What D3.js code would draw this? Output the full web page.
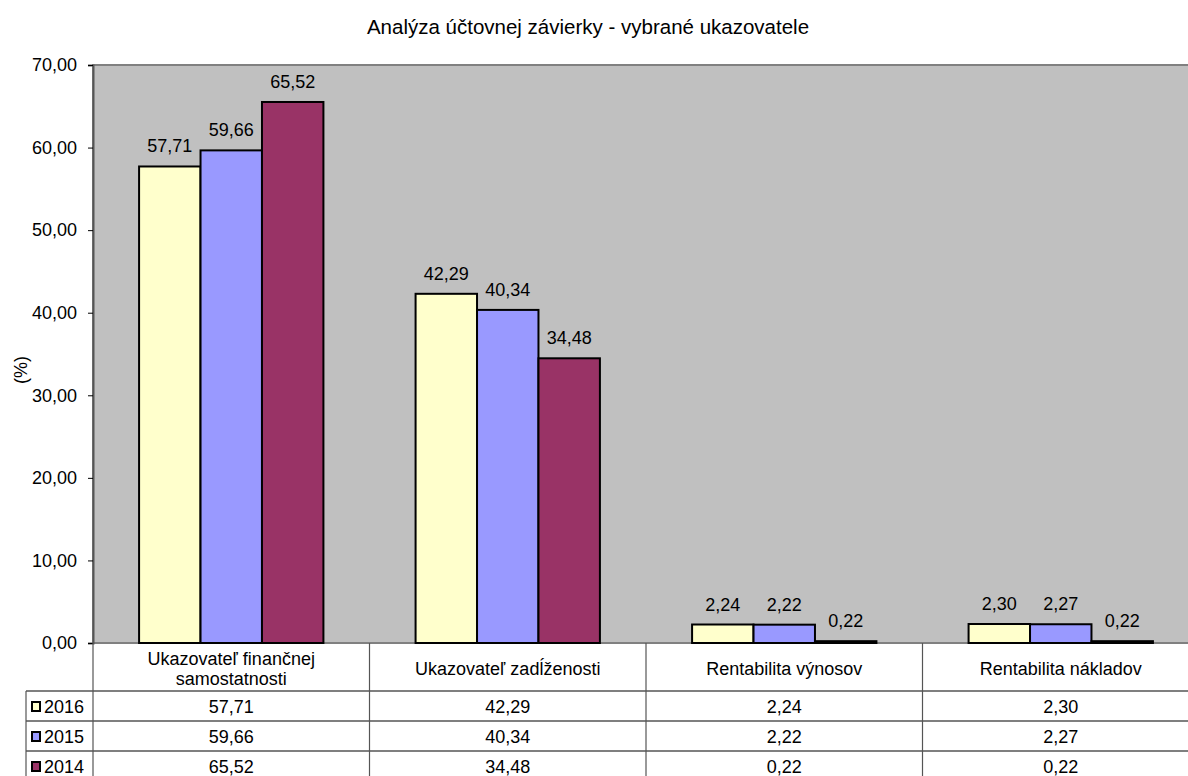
<!DOCTYPE html>
<html>
<head>
<meta charset="utf-8">
<script src="https://cdn.jsdelivr.net/npm/d3@7"></script>
<style>
  body { margin: 0; background: #fff; }
  svg { font-family: "Liberation Sans", Arial, sans-serif; }
</style>
</head>
<body>
<div id="plot"></div>
<script>
// data
var categories = [
    ["Ukazovateľ finančnej", "samostatnosti"],
    ["Ukazovateľ zadĺženosti"],
    ["Rentabilita výnosov"],
    ["Rentabilita nákladov"]
];
var years = ["2016", "2015", "2014"];
var values2016 = [57.71, 42.29, 2.24, 2.30];
var values2015 = [59.66, 40.34, 2.22, 2.27];
var values2014 = [65.52, 34.48, 0.22, 0.22];
var yTicks = [0, 10, 20, 30, 40, 50, 60, 70];
var colors = ["#FFFFCC", "#9999FF", "#993366"];

var series = [values2016, values2015, values2014];
var fmt = d => d.toFixed(2).replace(".", ",");
var fs = "18px";

// workspace
var svgWidth = 1188, svgHeight = 776;
var plot = { left: 93, top: 65, bottom: 643, right: 93 + 4 * 276.5 };

var svg = d3.select("#plot").append("svg")
    .attr("width", svgWidth)
    .attr("height", svgHeight);

// scales
var xScale = d3.scaleBand()
    .domain(d3.range(categories.length))
    .range([plot.left, plot.right]);
var bw = xScale.bandwidth();
var barW = bw / 4.5;
var xInner = d3.scaleBand()
    .domain(years)
    .range([barW * 0.75, bw - barW * 0.75]);
var yScale = d3.scaleLinear()
    .domain([0, 70])
    .range([plot.bottom, plot.top]);

// title
svg.append("text")
    .attr("x", 588)
    .attr("y", 34)
    .attr("text-anchor", "middle")
    .attr("font-size", "20.5px")
    .text("Analýza účtovnej závierky - vybrané ukazovatele");

// plot background
svg.append("rect")
    .attr("x", plot.left)
    .attr("y", plot.top)
    .attr("width", plot.right - plot.left)
    .attr("height", plot.bottom - plot.top)
    .attr("fill", "#C0C0C0")
    .attr("stroke", "#808080")
    .attr("stroke-width", 2);

// bars
var groups = svg.selectAll(".cat")
    .data(categories)
    .enter().append("g")
    .attr("transform", (d, i) => `translate(${xScale(i)},0)`);

years.forEach(function (yr, s) {
    groups.append("rect")
        .attr("x", (d, i) => xInner(yr))
        .attr("y", (d, i) => yScale(series[s][i]))
        .attr("width", xInner.bandwidth())
        .attr("height", (d, i) => plot.bottom - yScale(series[s][i]))
        .attr("fill", colors[s])
        .attr("stroke", "#000")
        .attr("stroke-width", 2);

    groups.append("text")
        .attr("x", (d, i) => xInner(yr) + xInner.bandwidth() / 2)
        .attr("y", (d, i) => yScale(series[s][i]) - 14)
        .attr("text-anchor", "middle")
        .attr("font-size", fs)
        .text((d, i) => fmt(series[s][i]));
});

// y axis
var leftAxis = d3.axisLeft(yScale)
    .tickValues(yTicks)
    .tickSize(5)
    .tickPadding(11)
    .tickFormat(fmt);
var ax = svg.append("g")
    .attr("transform", `translate(${plot.left},0)`)
    .call(leftAxis);
ax.select(".domain").attr("stroke", "#555").attr("stroke-width", 2);
ax.selectAll(".tick line").attr("stroke", "#000");
ax.selectAll(".tick text")
    .attr("font-size", fs)
    .attr("font-family", "Liberation Sans, Arial, sans-serif")
    .attr("fill", "#000");

// y axis title
svg.append("text")
    .attr("transform", "rotate(-90)")
    .attr("x", -370)
    .attr("y", 27)
    .attr("text-anchor", "middle")
    .attr("font-size", fs)
    .text("(%)");

// data table
var rowTops = [691, 721, 751];
var rowH = 30;
var tableLeft = 26;
var table = svg.append("g");

// category labels
groups.each(function (lines, i) {
    var g = d3.select(this);
    var cy = lines.length > 1 ? 665 : 675;
    lines.forEach(function (ln, k) {
        g.append("text")
            .attr("x", bw / 2)
            .attr("y", cy + k * 20)
            .attr("text-anchor", "middle")
            .attr("font-size", fs)
            .text(ln);
    });
});

// rows
years.forEach(function (yr, s) {
    var top = rowTops[s];
    table.append("rect")
        .attr("x", 32)
        .attr("y", top + 11)
        .attr("width", 8)
        .attr("height", 9)
        .attr("fill", colors[s])
        .attr("stroke", "#000")
        .attr("stroke-width", 2);
    table.append("text")
        .attr("x", 44)
        .attr("y", top + 22)
        .attr("font-size", fs)
        .text(yr);
    table.selectAll(null)
        .data(series[s])
        .enter().append("text")
        .attr("x", (d, i) => xScale(i) + bw / 2)
        .attr("y", top + 22)
        .attr("text-anchor", "middle")
        .attr("font-size", fs)
        .text(fmt);
});

// horizontal lines
rowTops.concat([751 + rowH]).forEach(function (y) {
    table.append("line")
        .attr("x1", tableLeft).attr("x2", plot.right)
        .attr("y1", y).attr("y2", y)
        .attr("stroke", "#000").attr("stroke-width", 1.2);
});
// vertical lines
table.append("line")
    .attr("x1", tableLeft).attr("x2", tableLeft)
    .attr("y1", rowTops[0]).attr("y2", 751 + rowH)
    .attr("stroke", "#555").attr("stroke-width", 1.2);
d3.range(categories.length + 1).forEach(function (i) {
    var x = plot.left + i * bw;
    table.append("line")
        .attr("x1", x).attr("x2", x)
        .attr("y1", plot.bottom).attr("y2", 751 + rowH)
        .attr("stroke", "#555").attr("stroke-width", 1.2);
});
</script>
</body>
</html>
